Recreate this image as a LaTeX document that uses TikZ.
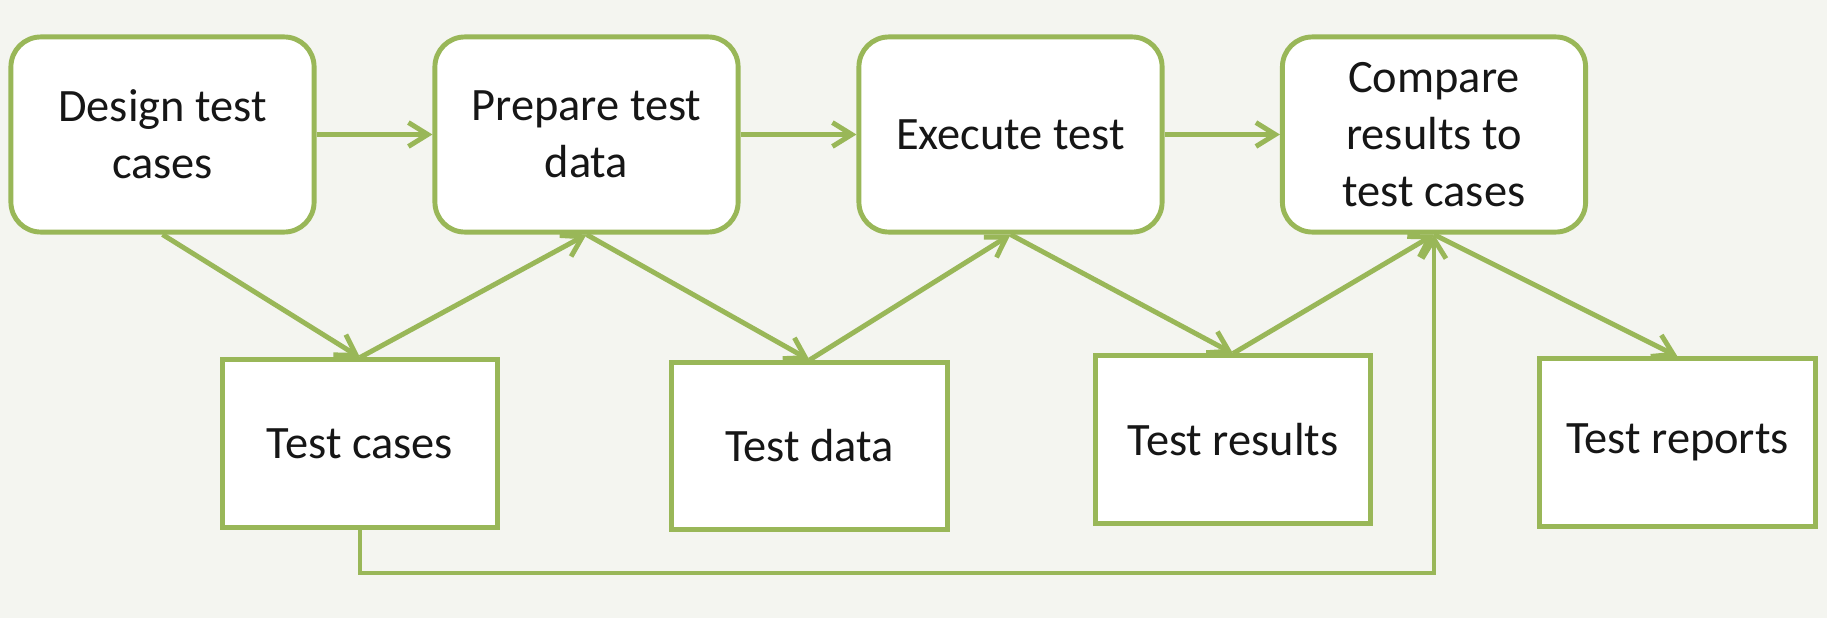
\documentclass[tikz,border=0pt]{standalone}
\usepackage{fontspec}
\setmainfont{Carlito}
\usetikzlibrary{arrows.meta}
\definecolor{grn}{HTML}{99B758}
\definecolor{bgc}{HTML}{F4F5F0}
\definecolor{txt}{HTML}{161616}
\begin{document}
\begin{tikzpicture}[x=0.01cm,y=-0.01cm,
  boxfont/.style={font=\fontsize{13.2}{16.2}\selectfont, text=txt, align=center, inner sep=0pt},
  proc/.style={boxfont, draw=grn, line width=1.4pt, fill=white, rounded corners=8.5pt,
    minimum width=3.03cm, minimum height=1.95cm},
  store/.style={boxfont, draw=grn, line width=1.4pt, fill=white,
    minimum width=2.75cm, minimum height=1.67cm},
  conn/.style={draw=grn, line width=1.4pt, -{Straight Barb[length=5.5pt,width=6.8pt,line width=1.4pt]}}]
\fill[bgc] (0,0) rectangle (1827,618);
\useasboundingbox (0,0) rectangle (1827,618);

\node[proc] (b1) at (162.5,134.5) {Design test\\cases};
\node[proc] (b2) at (586.5,134.5) {Prepare test\\data};
\node[proc] (b3) at (1010.5,134.5) {Execute test};
\node[proc] (b4) at (1434,134.5) {Compare\\results to\\test cases};

\node[store] (tc) at (360,443.5) {Test cases};
\node[store] (td) at (809.5,446) {Test data};
\node[store] (tr) at (1233,439.5) {Test results};
\node[store] (rp) at (1677.5,442.5) {Test reports};

\draw[conn] (b1.east) -- (b2.west);
\draw[conn] (b2.east) -- (b3.west);
\draw[conn] (b3.east) -- (b4.west);

\draw[conn] (b1.south) -- (tc.north);
\draw[conn] (tc.north) -- (b2.south);
\draw[conn] (b2.south) -- (td.north);
\draw[conn] (td.north) -- (b3.south);
\draw[conn] (b3.south) -- (tr.north);
\draw[conn] (tr.north) -- (b4.south);
\draw[conn] (b4.south) -- (rp.north);

\coordinate (fb) at (360,573);
\draw[conn] (tc.south) -- (tc.south |- fb) -| (b4.south);
\end{tikzpicture}
\end{document}
